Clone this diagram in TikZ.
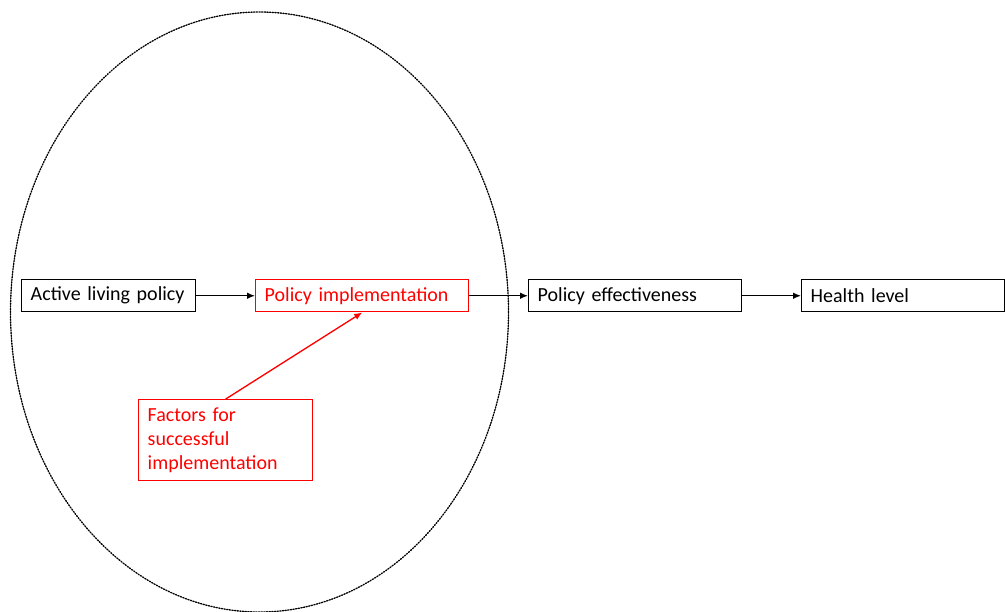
\documentclass[tikz,border=0pt]{standalone}
\usepackage{fontspec}
\setmainfont{Carlito}
\usetikzlibrary {arrows.meta}

\begin{document}
\begin{tikzpicture}[x=0.75pt, y=-0.75pt, line cap=round]

    \tikzset{
        box/.style={draw, line width=1.1pt, anchor=north west, align=left,
            minimum height=24pt, inner xsep=6.75pt, inner ysep=2pt,
            font=\fontsize{15}{18}\selectfont},
        link/.style={line width=1pt, -{Latex[length=6pt, width=5pt]}}
    }

    \useasboundingbox (0,0) rectangle (1005,611);

    \draw[line width=1pt, dash pattern=on 0.9pt off 1.1pt, black] (259.5,312) ellipse [x radius=249, y radius=300];

    \node[box, text width=117pt] (alp) at (21,279) {Active living policy};
    \node[box, red, text width=146.25pt] (pi) at (255,279) {Policy implementation};
    \node[box, text width=146.25pt] (pe) at (528,279) {Policy effectiveness};
    \node[box, text width=138.5pt] (hl) at (801,279) {Health level};
    \node[box, red, text width=117pt, minimum height=60.75pt] (fac) at (138,399) {Factors for\\successful\\implementation};

    \draw[link] (alp) -- (pi);
    \draw[link] (pi) -- (pe);
    \draw[link] (pe) -- (hl);
    \draw[link, red] (fac.north) -- (pi.south);

\end{tikzpicture}
\end{document}
